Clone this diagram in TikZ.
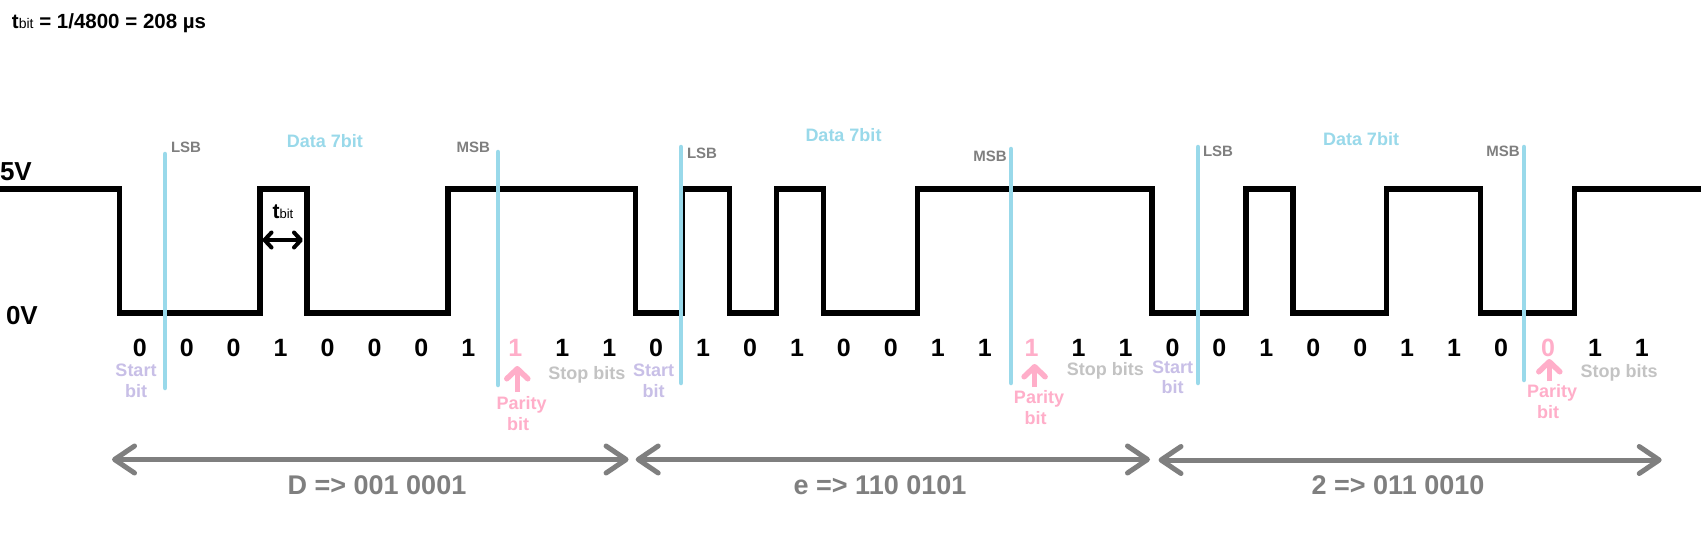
\documentclass[tikz,border=0pt]{standalone}
\usepackage{fontspec}
\setmainfont{Liberation Sans}
\usetikzlibrary{arrows.meta}
\definecolor{dblue}{HTML}{99D9EA}
\definecolor{lav}{HTML}{C8BFE7}
\definecolor{pinkc}{HTML}{FFAEC9}
\definecolor{stopc}{HTML}{C3C3C3}
\definecolor{grayc}{HTML}{7F7F7F}
\newcommand\fsz[1]{\fontsize{#1}{#1}\selectfont}
\begin{document}
\begin{tikzpicture}[x=1pt,y=-1pt,
  txt/.style={inner sep=0pt, outer sep=0pt, anchor=base},
  wave/.style={line width=5.5pt, black, line join=miter},
  marker/.style={line width=4.5pt, dblue, line cap=round},
  bitk/.style={txt, font=\bfseries\fsz{25}, text=black},
  bitp/.style={txt, font=\bfseries\fsz{25}, text=pinkc},
  level/.style={txt, font=\bfseries\fsz{26}, text=black},
  sbmark/.style={txt, font=\bfseries\fsz{15}, text=grayc},
  datalbl/.style={txt, font=\bfseries\fsz{18}, text=dblue},
  startlbl/.style={txt, font=\bfseries\fsz{18}, text=lav},
  paritylbl/.style={txt, font=\bfseries\fsz{18}, text=pinkc},
  stoplbl/.style={txt, font=\bfseries\fsz{18}, text=stopc},
  framelbl/.style={txt, font=\bfseries\fsz{27}, text=grayc},
  framearrow/.style={line width=5pt, grayc, line cap=round,
    {Straight Barb[length=20pt,width=27pt,round]}-{Straight Barb[length=20pt,width=27pt,round]}},
  parityarrow/.style={line width=5.5pt, pinkc,
    -{Straight Barb[length=10pt,width=21pt,round]}},
  tbitarrow/.style={line width=4pt, black,
    {Straight Barb[length=7pt,width=15pt,round]}-{Straight Barb[length=7pt,width=15pt,round]}}
]
\useasboundingbox (0,0) rectangle (1701,535);
\fill[white] (0,0) rectangle (1701,535);

% title
\node[txt, anchor=base west, font=\bfseries\fsz{20.5}] (title) at (12,28.5)
  {t{\mdseries\fsz{14}bit} = 1/4800 = 208 µs};

% levels
\node[level, anchor=base west] (v5) at (0,180.3) {5V};
\node[level, anchor=base west] (v0) at (6,324.3) {0V};

% waveform
\draw[wave] (-5,189) -- (119.3,189) -- (119.3,313) -- (260.12,313) -- (260.12,189)
  -- (307.06,189) -- (307.06,313) -- (447.88,313) -- (447.88,189) -- (635.64,189)
  -- (635.64,313) -- (682.58,313) -- (682.58,189) -- (729.52,189) -- (729.52,313)
  -- (776.46,313) -- (776.46,189) -- (823.4,189) -- (823.4,313) -- (917.28,313)
  -- (917.28,189) -- (1151.98,189) -- (1151.98,313) -- (1245.86,313) -- (1245.86,189)
  -- (1292.8,189) -- (1292.8,313) -- (1386.68,313) -- (1386.68,189) -- (1480.56,189)
  -- (1480.56,313) -- (1574.44,313) -- (1574.44,189) -- (1710,189);

% LSB / MSB markers
\coordinate (l1t) at (165,154);  \coordinate (l1b) at (165,388);
\coordinate (m1t) at (498,152);  \coordinate (m1b) at (498,385);
\coordinate (l2t) at (681,147);  \coordinate (l2b) at (681,383);
\coordinate (m2t) at (1011,149); \coordinate (m2b) at (1011,383);
\coordinate (l3t) at (1198,147); \coordinate (l3b) at (1198,383);
\coordinate (m3t) at (1524,147); \coordinate (m3b) at (1524,380);
\foreach \a in {l1,m1,l2,m2,l3,m3} \draw[marker] (\a t) -- (\a b);

\node[sbmark, anchor=base west] (lsb1) at (171,152) {LSB};
\node[sbmark, anchor=base east] (msb1) at (490,152.4) {MSB};
\node[sbmark, anchor=base west] (lsb2) at (687,158) {LSB};
\node[sbmark, anchor=base east] (msb2) at (1006.7,161) {MSB};
\node[sbmark, anchor=base west] (lsb3) at (1203,156) {LSB};
\node[sbmark, anchor=base east] (msb3) at (1519.8,156) {MSB};

\node[datalbl] (data1) at (325,147) {Data 7bit};
\node[datalbl] (data2) at (843.5,141.4) {Data 7bit};
\node[datalbl] (data3) at (1361,145.4) {Data 7bit};

% t_bit
\coordinate (tb1) at (262.5,240);
\coordinate (tb2) at (303,240);
\draw[tbitarrow] (tb1) -- (tb2);
\node[txt, font=\bfseries\fsz{21}] (tbit) at (283,218) {t{\mdseries\fsz{13}bit}};

% bit values
\foreach \b/\c [count=\k from 0] in {0/k,0/k,0/k,1/k,0/k,0/k,0/k,1/k,1/p,1/k,1/k,
  0/k,1/k,0/k,1/k,0/k,0/k,1/k,1/k,1/p,1/k,1/k,
  0/k,0/k,1/k,0/k,0/k,1/k,1/k,0/k,0/p,1/k,1/k}
  \node[bit\c] (b\k) at ({139.8+46.94*\k},356) {\b};

% start bits
\node[startlbl] (st1a) at (136,376.4) {Start};
\node[startlbl] (st1b) at (136,397) {bit};
\node[startlbl] (st2a) at (653.7,376.4) {Start};
\node[startlbl] (st2b) at (653.7,397) {bit};
\node[startlbl] (st3a) at (1172.7,373) {Start};
\node[startlbl] (st3b) at (1172.7,393.5) {bit};

% parity
\coordinate (p1s) at (517.3,392); \coordinate (p1e) at (517.3,366);
\coordinate (p2s) at (1034.6,387); \coordinate (p2e) at (1034.6,364);
\coordinate (p3s) at (1549.3,381); \coordinate (p3e) at (1549.3,359);
\foreach \p in {p1,p2,p3} \draw[parityarrow] (\p s) -- (\p e);
\node[paritylbl] (pa1a) at (521.6,409.7) {Parity};
\node[paritylbl] (pa1b) at (518,430.5) {bit};
\node[paritylbl] (pa2a) at (1039,403) {Parity};
\node[paritylbl] (pa2b) at (1035.5,424) {bit};
\node[paritylbl] (pa3a) at (1552,397.5) {Parity};
\node[paritylbl] (pa3b) at (1548,418) {bit};

% stop bits
\node[stoplbl] (sp1) at (586.8,379) {Stop bits};
\node[stoplbl] (sp2) at (1105.3,375.7) {Stop bits};
\node[stoplbl] (sp3) at (1619.2,377.5) {Stop bits};

% frame arrows
\coordinate (a1l) at (112,459.5);   \coordinate (a1r) at (628.6,459.5);
\coordinate (a2l) at (635.7,459.5); \coordinate (a2r) at (1150,459.5);
\coordinate (a3l) at (1158.5,460);  \coordinate (a3r) at (1661.7,460);
\foreach \a in {a1,a2,a3} \draw[framearrow] (\a l) -- (\a r);

\node[framelbl] (f1) at (377,494) {D => 001 0001};
\node[framelbl] (f2) at (880,494) {e => 110 0101};
\node[framelbl] (f3) at (1398,494) {2 => 011 0010};
\end{tikzpicture}
\end{document}
